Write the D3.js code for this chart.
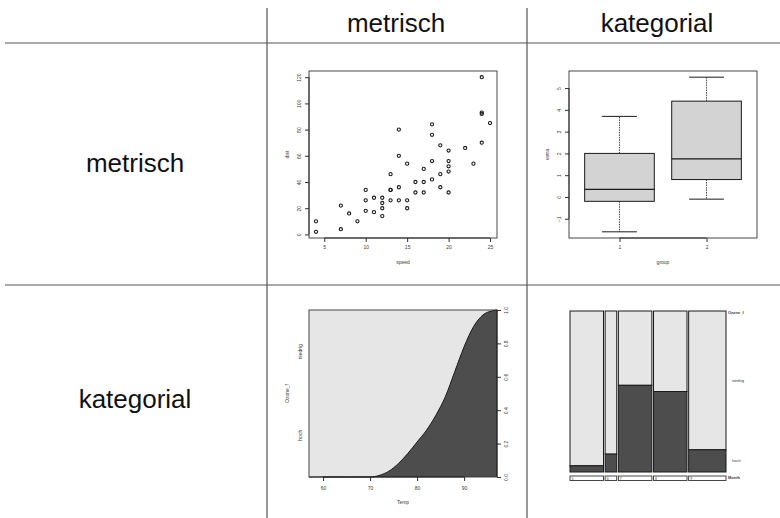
<!DOCTYPE html>
<html>
<head>
<meta charset="utf-8">
<script src="https://cdn.jsdelivr.net/npm/d3@7"></script>
<style>
  body { margin: 0; background: #fff; }
  svg { display: block; }
</style>
</head>
<body>
<svg id="chart" width="780" height="518"></svg>
<script>
// ---- Table headings ----
const colHeads = ["metrisch", "kategorial"];
const rowHeads = ["metrisch", "kategorial"];

// ---- Panel 1: scatter (speed vs dist) ----
const speed = [4,4,7,7,8,9,10,10,10,11,11,12,12,12,12,13,13,13,13,14,14,14,14,15,15,15,16,16,17,17,17,18,18,18,18,19,19,19,20,20,20,20,20,22,23,24,24,24,24,25];
const dist  = [2,10,4,22,16,10,18,26,34,17,28,14,20,24,28,26,34,34,46,26,36,60,80,20,26,54,32,40,32,40,50,42,56,76,84,36,46,68,32,48,52,56,64,66,54,70,92,93,120,85];
const speedTicks = [5,10,15,20,25];
const distTicks = [0,20,40,60,80,100,120];

// ---- Panel 2: boxplot (extra by group) ----
const groups = ["1", "2"];
const boxMin = [-1.6, -0.1];
const boxQ1 = [-0.2, 0.8];
const boxMed = [0.35, 1.75];
const boxQ3 = [2.0, 4.4];
const boxMax = [3.7, 5.5];
const extraTicks = [-1,0,1,2,3,4,5];

// ---- Panel 3: conditional density (Ozone_f given Temp) ----
const cdTemp  = [57, 60, 65, 68, 70, 72, 74, 76, 78, 80, 82, 84, 86, 88, 90, 92, 94, 96, 97];
const cdHoch  = [0, 0, 0, 0, 0, 0.01, 0.035, 0.08, 0.14, 0.21, 0.28, 0.37, 0.48, 0.63, 0.78, 0.90, 0.97, 0.995, 1.0];
const cdLevels = ["hoch", "niedrig"];
const tempTicks = [60,70,80,90];
const probTicks = [0,0.2,0.4,0.6,0.8,1.0];

// ---- Panel 4: spineplot (Ozone_f by Month) ----
const months = ["5","6","7","8","9"];
const monthHoch = [1, 1, 14, 13, 4];
const monthNiedrig = [25, 8, 12, 13, 25];

const svg = d3.select("#chart");
const ink = "#1a1a1a";
const txt = "#3a3a3a";
const tiny = 5;
const plotFont = '"Liberation Sans", Arial, sans-serif';

// ---- grid of the table ----
const grid = svg.append("g").attr("stroke", "#555").attr("stroke-width", 1.2);
grid.append("line").attr("x1", 5).attr("x2", 780).attr("y1", 43).attr("y2", 43);
grid.append("line").attr("x1", 5).attr("x2", 780).attr("y1", 285).attr("y2", 285);
grid.append("line").attr("x1", 267).attr("x2", 267).attr("y1", 8).attr("y2", 518);
grid.append("line").attr("x1", 527).attr("x2", 527).attr("y1", 8).attr("y2", 518);

const headFont = '"Liberation Sans", Arial, sans-serif';
svg.selectAll("text.colhead").data(colHeads).join("text")
  .attr("class", "colhead")
  .attr("x", (d, i) => [396, 657][i]).attr("y", 32)
  .attr("text-anchor", "middle")
  .style("font-family", headFont).style("font-size", "26px").attr("fill", "#111")
  .text(d => d);
svg.selectAll("text.rowhead").data(rowHeads).join("text")
  .attr("class", "rowhead")
  .attr("x", 135).attr("y", (d, i) => [172, 408][i])
  .attr("text-anchor", "middle")
  .style("font-family", headFont).style("font-size", "26px").attr("fill", "#111")
  .text(d => d);

// R-like axis: line spans first..last tick, small outward ticks, rotated labels on vertical axes
function rAxis(g, scale, orient, ticks, fmt, labelOffset) {
  const gen = orient === "bottom" ? d3.axisBottom(scale) : orient === "left" ? d3.axisLeft(scale) : d3.axisRight(scale);
  gen.tickValues(ticks).tickSize(4).tickFormat(fmt);
  g.call(gen);
  g.select(".domain").remove();
  g.selectAll(".tick line").attr("stroke", ink).attr("stroke-width", 0.9);
  const a = scale(ticks[0]), b = scale(ticks[ticks.length - 1]);
  if (orient === "bottom") {
    g.append("line").attr("x1", a).attr("x2", b).attr("stroke", ink).attr("stroke-width", 0.9);
    g.selectAll(".tick text").attr("y", labelOffset).attr("dy", "0.35em");
  } else {
    g.append("line").attr("y1", a).attr("y2", b).attr("stroke", ink).attr("stroke-width", 0.9);
    const off = orient === "left" ? -labelOffset : labelOffset;
    g.selectAll(".tick text")
      .attr("x", null).attr("dy", "0.35em")
      .attr("text-anchor", "middle")
      .attr("transform", `translate(${off},0) rotate(-90)`);
  }
  g.selectAll(".tick text").attr("fill", txt).style("font-size", tiny + "px")
    .style("font-family", plotFont);
}

function label(x, y, s, rotate, opts = {}) {
  svg.append("text")
    .attr("transform", `translate(${x},${y})` + (rotate ? " rotate(-90)" : ""))
    .attr("text-anchor", opts.anchor || "middle").attr("dy", "0.35em")
    .style("font-family", plotFont)
    .style("font-size", (opts.size || tiny) + "px")
    .style("font-weight", opts.bold ? "bold" : "normal")
    .attr("fill", txt).text(s);
}

function frame(x0, y0, x1, y1) {
  svg.append("rect").attr("x", x0).attr("y", y0).attr("width", x1 - x0).attr("height", y1 - y0)
    .attr("fill", "none").attr("stroke", "#333").attr("stroke-width", 0.9);
}

// ================= Panel 1: scatter =================
{
  const x = d3.scaleLinear().domain([3.16, 25.84]).range([309, 497]);
  const y = d3.scaleLinear().domain([-2.72, 124.72]).range([238, 71]);
  svg.append("g").selectAll("circle").data(speed).join("circle")
    .attr("cx", (d) => x(d)).attr("cy", (d, i) => y(dist[i])).attr("r", 1.6)
    .attr("fill", "none").attr("stroke", ink).attr("stroke-width", 1.1);
  rAxis(svg.append("g").attr("transform", "translate(0,238)"), x, "bottom", speedTicks, d3.format("d"), 9);
  rAxis(svg.append("g").attr("transform", "translate(309,0)"), y, "left", distTicks, d3.format("d"), 10);
  frame(309, 71, 497, 238);
  label(403, 262, "speed");
  label(287, 154.5, "dist", true);
}

// ================= Panel 2: boxplot =================
{
  const x = d3.scaleLinear().domain([0.42, 2.58]).range([569, 757]);
  const y = d3.scaleLinear().domain([-1.884, 5.784]).range([238, 71]);
  const g = svg.append("g");
  groups.forEach((grp, i) => {
    const c = i + 1;
    const bx0 = x(c - 0.4), bx1 = x(c + 0.4);
    const sx0 = x(c - 0.2), sx1 = x(c + 0.2);
    // whiskers
    g.append("line").attr("x1", x(c)).attr("x2", x(c)).attr("y1", y(boxQ3[i])).attr("y2", y(boxMax[i]))
      .attr("stroke", ink).attr("stroke-width", 0.8).attr("stroke-dasharray", "1.5,1");
    g.append("line").attr("x1", x(c)).attr("x2", x(c)).attr("y1", y(boxQ1[i])).attr("y2", y(boxMin[i]))
      .attr("stroke", ink).attr("stroke-width", 0.8).attr("stroke-dasharray", "1.5,1");
    // staples
    g.append("line").attr("x1", sx0).attr("x2", sx1).attr("y1", y(boxMax[i])).attr("y2", y(boxMax[i]))
      .attr("stroke", ink).attr("stroke-width", 1);
    g.append("line").attr("x1", sx0).attr("x2", sx1).attr("y1", y(boxMin[i])).attr("y2", y(boxMin[i]))
      .attr("stroke", ink).attr("stroke-width", 1);
    // box
    g.append("rect").attr("x", bx0).attr("width", bx1 - bx0)
      .attr("y", y(boxQ3[i])).attr("height", y(boxQ1[i]) - y(boxQ3[i]))
      .attr("fill", "#d3d3d3").attr("stroke", ink).attr("stroke-width", 1);
    // median
    g.append("line").attr("x1", bx0).attr("x2", bx1).attr("y1", y(boxMed[i])).attr("y2", y(boxMed[i]))
      .attr("stroke", ink).attr("stroke-width", 1.3);
  });
  rAxis(svg.append("g").attr("transform", "translate(0,238)"), x, "bottom", [1, 2], (d, i) => groups[i], 9);
  rAxis(svg.append("g").attr("transform", "translate(569,0)"), y, "left", extraTicks, d3.format("d"), 10);
  frame(569, 71, 757, 238);
  label(663, 262, "group");
  label(547, 154.5, "extra", true);
}

// ================= Panel 3: conditional density =================
{
  const x = d3.scaleLinear().domain([57, 97]).range([309, 497]);
  const y = d3.scaleLinear().domain([0, 1]).range([477, 310]);
  svg.append("rect").attr("x", 309).attr("y", 310).attr("width", 188).attr("height", 167).attr("fill", "#e6e6e6");
  const area = d3.area().x((d, i) => x(cdTemp[i])).y0(y(0)).y1(d => y(d)).curve(d3.curveMonotoneX);
  const line = d3.line().x((d, i) => x(cdTemp[i])).y(d => y(d)).curve(d3.curveMonotoneX);
  svg.append("path").datum(cdHoch).attr("d", area).attr("fill", "#4d4d4d");
  svg.append("path").datum(cdHoch).attr("d", line).attr("fill", "none").attr("stroke", ink).attr("stroke-width", 1);
  frame(309, 310, 497, 477);
  rAxis(svg.append("g").attr("transform", "translate(0,477)"), x, "bottom", tempTicks, d3.format("d"), 11);
  rAxis(svg.append("g").attr("transform", "translate(497,0)"), y, "right", probTicks, d3.format(".1f"), 9);
  cdLevels.forEach((lv, i) => label(300, y(0.25 + 0.5 * i), lv, true));
  label(287, 393.5, "Ozone_f", true);
  label(403, 502, "Temp");
}

// ================= Panel 4: spineplot =================
{
  const totals = months.map((m, i) => monthHoch[i] + monthNiedrig[i]);
  const N = d3.sum(totals);
  const gap = 0.011;
  const x = d3.scaleLinear().domain([0, 1 + gap * (months.length - 1)]).range([570, 726]);
  const y = d3.scaleLinear().domain([0, 1]).range([472, 311]);
  let acc = 0;
  const g = svg.append("g");
  months.forEach((m, i) => {
    const w = totals[i] / N;
    const x0 = x(acc), x1 = x(acc + w);
    const p = monthHoch[i] / totals[i];
    g.append("rect").attr("x", x0).attr("y", y(1)).attr("width", x1 - x0).attr("height", y(p) - y(1))
      .attr("fill", "#e6e6e6").attr("stroke", ink).attr("stroke-width", 1);
    g.append("rect").attr("x", x0).attr("y", y(p)).attr("width", x1 - x0).attr("height", y(0) - y(p))
      .attr("fill", "#4d4d4d").attr("stroke", ink).attr("stroke-width", 1);
    // month strip beneath
    g.append("rect").attr("x", x0).attr("y", 476).attr("width", x1 - x0).attr("height", 4.5)
      .attr("fill", "#fff").attr("stroke", "#333").attr("stroke-width", 0.9);
    g.append("text").attr("x", x0 + 1.5).attr("y", 478.3).attr("dy", "0.35em")
      .style("font-family", plotFont).style("font-size", "3.5px")
      .attr("fill", txt).text(m);
    if (i === months.length - 1) {
      label(732, (y(1) + y(p)) / 2, "niedrig", false, { anchor: "start", size: 4 });
      label(732, (y(p) + y(0)) / 2, "hoch", false, { anchor: "start", size: 4 });
    }
    acc += w + gap;
  });
  label(728, 313, "Ozone_f", false, { anchor: "start", size: 4, bold: true });
  label(728, 478, "Month", false, { anchor: "start", size: 4, bold: true });
}
</script>
</body>
</html>
